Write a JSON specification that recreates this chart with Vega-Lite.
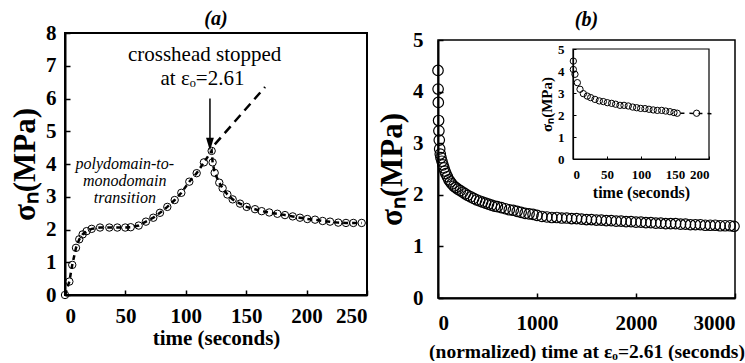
{
  "$schema": "https://vega.github.io/schema/vega-lite/v6.json",
  "padding": {"left": 8, "top": 8, "right": 0, "bottom": 0},
  "background": "white",
  "spacing": 71,
  "bounds": "flush",
  "config": {
    "view": {"stroke": "black", "strokeWidth": 2},
    "font": "Liberation Serif",
    "axis": {"grid": false, "domainColor": "black", "domainWidth": 2, "tickColor": "black", "tickWidth": 1.5, "labelColor": "black", "titleColor": "black", "labelFont": "Liberation Serif", "titleFont": "Liberation Serif", "labelFontWeight": "bold", "titleFontWeight": "bold", "format": "d"},
    "title": {"font": "Liberation Serif", "fontStyle": "italic", "fontWeight": "bold", "fontSize": 20, "color": "black", "frame": "group"}
  },
  "datasets": {
    "a_pts": [
      {"t": 0, "s": 0}, {"t": 3.6, "s": 0.41}, {"t": 6.0, "s": 0.92}, {"t": 9.1, "s": 1.44}, {"t": 11.8, "s": 1.70},
      {"t": 14.6, "s": 1.85}, {"t": 17.9, "s": 1.95}, {"t": 22.1, "s": 2.02}, {"t": 29, "s": 2.06}, {"t": 36.7, "s": 2.06},
      {"t": 43.3, "s": 2.06}, {"t": 49.9, "s": 2.06}, {"t": 54.4, "s": 2.07}, {"t": 61, "s": 2.12}, {"t": 67, "s": 2.24},
      {"t": 73.1, "s": 2.36}, {"t": 78.6, "s": 2.51}, {"t": 84.7, "s": 2.69}, {"t": 90.8, "s": 2.90}, {"t": 96.3, "s": 3.12},
      {"t": 102.9, "s": 3.46}, {"t": 109, "s": 3.72}, {"t": 115, "s": 4.05}, {"t": 121.4, "s": 4.40}, {"t": 122.2, "s": 4.05},
      {"t": 123.9, "s": 3.73}, {"t": 127.7, "s": 3.43}, {"t": 130.5, "s": 3.26}, {"t": 134.4, "s": 3.07}, {"t": 138.8, "s": 2.92},
      {"t": 144.9, "s": 2.79}, {"t": 150.4, "s": 2.69}, {"t": 157.3, "s": 2.62}, {"t": 162.8, "s": 2.56}, {"t": 169.1, "s": 2.52},
      {"t": 175.8, "s": 2.48}, {"t": 182.1, "s": 2.44}, {"t": 188.5, "s": 2.40}, {"t": 194.5, "s": 2.36}, {"t": 200.6, "s": 2.32},
      {"t": 207, "s": 2.30}, {"t": 213.3, "s": 2.26}, {"t": 219.4, "s": 2.24}, {"t": 226.2, "s": 2.21}, {"t": 232.6, "s": 2.20},
      {"t": 238.7, "s": 2.20}, {"t": 245.6, "s": 2.20}
    ],
    "a_ext": [{"t": 124, "s": 4.6}, {"t": 165.6, "s": 6.35}],
    "a_notes": [
      {"t": 115.6, "s": 7.32, "label": "crosshead stopped"},
      {"t": 113.8, "s": 6.6, "label": "at εₒ=2.61"}
    ],
    "a_trans": [
      {"t": 49.5, "s": 3.99, "label": "polydomain-to-\nmonodomain\ntransition"}
    ],
    "a_arrow": [{"t": 120, "s": 6.0, "s2": 4.75}],
    "a_head": [{"t": 120, "s": 4.6}],
    "b_frame": [{"t": 0, "t2": 3000, "s": 0, "s2": 5}],
    "b_pts": [
      {"t": 0, "s": 4.41}, {"t": 1, "s": 4.05}, {"t": 3, "s": 3.79}, {"t": 6, "s": 3.44}, {"t": 9, "s": 3.24},
      {"t": 13, "s": 3.06}, {"t": 17, "s": 2.89}, {"t": 23, "s": 2.79}, {"t": 30, "s": 2.72}, {"t": 40, "s": 2.65},
      {"t": 50, "s": 2.58}, {"t": 60, "s": 2.52}, {"t": 70, "s": 2.46}, {"t": 80, "s": 2.41}, {"t": 95, "s": 2.35},
      {"t": 110, "s": 2.29}, {"t": 125, "s": 2.25}, {"t": 140, "s": 2.21}, {"t": 160, "s": 2.17}, {"t": 180, "s": 2.14},
      {"t": 200, "s": 2.11}, {"t": 225, "s": 2.08}, {"t": 250, "s": 2.05}, {"t": 275, "s": 2.02}, {"t": 300, "s": 1.99},
      {"t": 330, "s": 1.96}, {"t": 360, "s": 1.93}, {"t": 390, "s": 1.90}, {"t": 420, "s": 1.88}, {"t": 450, "s": 1.86},
      {"t": 480, "s": 1.84}, {"t": 510, "s": 1.82}, {"t": 540, "s": 1.80}, {"t": 570, "s": 1.78}, {"t": 600, "s": 1.77},
      {"t": 640, "s": 1.75}, {"t": 680, "s": 1.73}, {"t": 720, "s": 1.71}, {"t": 760, "s": 1.70}, {"t": 800, "s": 1.68},
      {"t": 840, "s": 1.66}, {"t": 880, "s": 1.64}, {"t": 920, "s": 1.63}, {"t": 960, "s": 1.62}, {"t": 1000, "s": 1.60},
      {"t": 1050, "s": 1.58}, {"t": 1100, "s": 1.57}, {"t": 1150, "s": 1.56}, {"t": 1200, "s": 1.56}, {"t": 1250, "s": 1.55},
      {"t": 1300, "s": 1.55}, {"t": 1350, "s": 1.54}, {"t": 1400, "s": 1.54}, {"t": 1450, "s": 1.53}, {"t": 1500, "s": 1.52},
      {"t": 1550, "s": 1.52}, {"t": 1600, "s": 1.51}, {"t": 1650, "s": 1.51}, {"t": 1700, "s": 1.50}, {"t": 1750, "s": 1.50},
      {"t": 1800, "s": 1.49}, {"t": 1850, "s": 1.49}, {"t": 1900, "s": 1.48}, {"t": 1950, "s": 1.48}, {"t": 2000, "s": 1.47},
      {"t": 2050, "s": 1.47}, {"t": 2100, "s": 1.46}, {"t": 2150, "s": 1.46}, {"t": 2200, "s": 1.45}, {"t": 2250, "s": 1.45},
      {"t": 2300, "s": 1.44}, {"t": 2350, "s": 1.44}, {"t": 2400, "s": 1.44}, {"t": 2450, "s": 1.43}, {"t": 2500, "s": 1.43},
      {"t": 2550, "s": 1.42}, {"t": 2600, "s": 1.42}, {"t": 2650, "s": 1.42}, {"t": 2700, "s": 1.41}, {"t": 2750, "s": 1.41},
      {"t": 2800, "s": 1.41}, {"t": 2850, "s": 1.40}, {"t": 2900, "s": 1.40}, {"t": 2950, "s": 1.40}, {"t": 2990, "s": 1.39}
    ],
    "inset_frame": [{"t": 0, "t2": 200, "s": 0, "s2": 5}],
    "inset_pts": [
      {"t": 0.5, "s": 4.45}, {"t": 0.5, "s": 4.07}, {"t": 2.9, "s": 3.85}, {"t": 6.4, "s": 3.47}, {"t": 10.3, "s": 3.17},
      {"t": 15.2, "s": 2.97}, {"t": 21, "s": 2.86}, {"t": 26, "s": 2.79}, {"t": 32.3, "s": 2.71}, {"t": 38.7, "s": 2.64},
      {"t": 44.6, "s": 2.61}, {"t": 50.5, "s": 2.56}, {"t": 56.8, "s": 2.53}, {"t": 62.7, "s": 2.49}, {"t": 69.1, "s": 2.44},
      {"t": 75, "s": 2.44}, {"t": 81.3, "s": 2.41}, {"t": 87.7, "s": 2.36}, {"t": 93.6, "s": 2.33}, {"t": 99.5, "s": 2.30},
      {"t": 105.8, "s": 2.29}, {"t": 111.7, "s": 2.26}, {"t": 118, "s": 2.23}, {"t": 124, "s": 2.21}, {"t": 130.4, "s": 2.21},
      {"t": 136.3, "s": 2.18}, {"t": 142.6, "s": 2.15}, {"t": 148.5, "s": 2.11}, {"t": 153.3, "s": 2.08}, {"t": 181.8, "s": 2.08}
    ],
    "inset_tail": [{"t": 158, "s": 2.08}, {"t": 204, "s": 2.06}]
  },
  "hconcat": [
    {
      "width": 302,
      "height": 262,
      "title": {"text": "(a)", "offset": -7},
      "encoding": {
        "x": {"field": "t", "type": "quantitative", "scale": {"domain": [0, 250], "nice": false},
          "axis": {"values": [0, 50, 100, 150, 200, 250], "title": "time (seconds)", "labelFontSize": 21, "titleFontSize": 21, "tickSize": -5, "labelPadding": 15, "titlePadding": 1}},
        "y": {"field": "s", "type": "quantitative", "scale": {"domain": [0, 8], "nice": false},
          "axis": {"values": [0, 1, 2, 3, 4, 5, 6, 7, 8], "title": "σₙ(MPa)", "labelFontSize": 21, "titleFontSize": 31, "tickSize": -5, "labelPadding": 14, "titlePadding": 4}}
      },
      "layer": [
        {"data": {"name": "a_pts"}, "mark": {"type": "line", "color": "black", "strokeWidth": 2.5, "strokeDash": [5, 4]}},
        {"data": {"name": "a_pts"}, "mark": {"type": "point", "shape": "circle", "size": 55, "color": "black", "strokeWidth": 1, "filled": false, "opacity": 1}},
        {"data": {"name": "a_ext"}, "mark": {"type": "line", "color": "black", "strokeWidth": 2.5, "strokeDash": [9, 6]}},
        {"data": {"name": "a_arrow"}, "mark": {"type": "rule", "color": "black", "strokeWidth": 1.5},
          "encoding": {"y2": {"field": "s2"}}},
        {"data": {"name": "a_head"}, "mark": {"type": "point", "shape": "M-0.6,-1L0.6,-1L0,1Z", "size": 169, "filled": true, "color": "black", "opacity": 1}},
        {"data": {"name": "a_notes"}, "mark": {"type": "text", "font": "Liberation Serif", "fontSize": 21, "color": "black", "align": "center", "baseline": "middle"},
          "encoding": {"text": {"field": "label"}}},
        {"data": {"name": "a_trans"}, "mark": {"type": "text", "font": "Liberation Serif", "fontStyle": "italic", "fontSize": 16, "lineBreak": "\n", "lineHeight": 16.7, "color": "black", "align": "center", "baseline": "middle"},
          "encoding": {"text": {"field": "label"}}}
      ]
    },
    {
      "width": 297,
      "height": 265,
      "view": {"stroke": null},
      "title": {"text": "(b)", "offset": -1},
      "resolve": {"scale": {"x": "independent", "y": "independent"}, "axis": {"x": "independent", "y": "independent"}},
      "layer": [
        {
          "encoding": {
            "x": {"field": "t", "type": "quantitative", "scale": {"domain": [0, 3000], "nice": false},
              "axis": {"values": [0, 1000, 2000, 3000], "title": "(normalized) time at εₒ=2.61 (seconds)", "labelFontSize": 21, "titleFontSize": 19.5, "tickSize": -5, "labelPadding": 19, "titlePadding": 9}},
            "y": {"field": "s", "type": "quantitative", "scale": {"domain": [0, 5], "range": [265, 7], "nice": false},
              "axis": {"values": [0, 1, 2, 3, 4, 5], "title": "σₙ(MPa)", "labelFontSize": 21, "titleFontSize": 31, "tickSize": -5, "labelPadding": 20, "titlePadding": 4}}
          },
          "layer": [
            {"data": {"name": "b_frame"}, "mark": {"type": "rect", "filled": false, "stroke": "black", "strokeWidth": 1.5},
              "encoding": {"x2": {"field": "t2"}, "y2": {"field": "s2"}}},
            {"data": {"name": "b_pts"}, "mark": {"type": "point", "shape": "circle", "size": 110, "color": "black", "strokeWidth": 1.2, "filled": false, "opacity": 1}}
          ]
        },
        {
          "encoding": {
            "x": {"field": "t", "type": "quantitative", "scale": {"domain": [0, 200], "range": [135, 271], "nice": false},
              "axis": {"orient": "bottom", "offset": -139, "values": [0, 50, 100, 150, 200], "title": "time (seconds)", "labelFontSize": 13, "titleFontSize": 16, "tickSize": -3, "labelPadding": 12, "titlePadding": 3, "domainWidth": 1.2, "tickWidth": 1}},
            "y": {"field": "s", "type": "quantitative", "scale": {"domain": [0, 5], "range": [126, 16], "nice": false},
              "axis": {"orient": "left", "offset": -135, "values": [0, 1, 2, 3, 4, 5], "title": "σₙ(MPa)", "labelFontSize": 13, "titleFontSize": 15, "tickSize": -3, "labelPadding": 12, "titlePadding": 3, "domainWidth": 1.2, "tickWidth": 1}}
          },
          "layer": [
            {"data": {"name": "inset_frame"}, "mark": {"type": "rect", "filled": false, "stroke": "black", "strokeWidth": 1.2},
              "encoding": {"x2": {"field": "t2"}, "y2": {"field": "s2"}}},
            {"data": {"name": "inset_tail"}, "mark": {"type": "line", "color": "black", "strokeWidth": 1.5, "strokeDash": [4, 5]}},
            {"data": {"name": "inset_pts"}, "mark": {"type": "point", "shape": "circle", "size": 40, "color": "black", "strokeWidth": 1, "filled": false, "opacity": 1}}
          ]
        }
      ]
    }
  ]
}
